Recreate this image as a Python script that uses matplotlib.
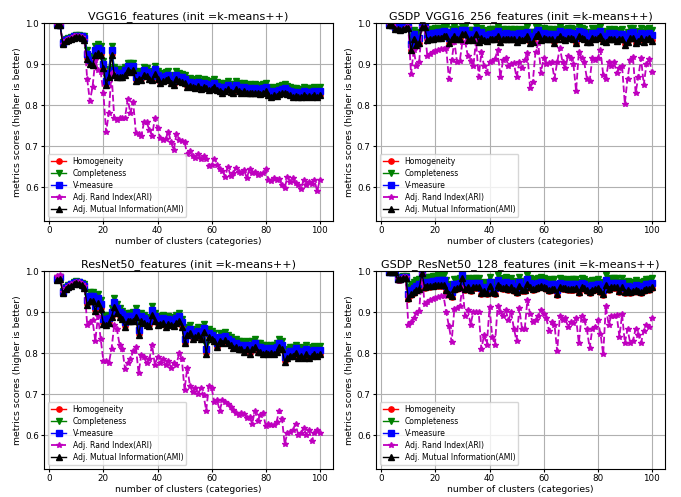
import numpy as np
import matplotlib
matplotlib.use("Agg")
from matplotlib import pyplot as plt

# number of clusters
k = np.arange(3, 101)

# ---- VGG16_features
vgg_h = np.array("""
.997 .996 .950 .958 .960 .963 .966 .968 .968 .966
.962 .915 .902 .900 .925 .930 .925 .892 .852 .872
.925 .877 .872 .872 .871 .877 .887 .884 .887 .862
.867 .863 .877 .873 .866 .863 .879 .866 .856 .861
.863 .866 .856 .851 .866 .861 .859 .856 .846 .849
.846 .843 .849 .841 .846 .843 .839 .841 .846 .839
.836 .833 .836 .841 .834 .833 .841 .836 .833 .836
.831 .833 .831 .833 .831 .829 .833 .836 .826 .823
.826 .824 .829 .831 .833 .829 .826 .823 .824 .821
.821 .826 .823 .824 .823 .826 .821 .826""".split(), dtype=float)
vgg_c = np.array("""
.999 .998 .954 .962 .964 .967 .970 .972 .972 .970
.968 .935 .918 .920 .945 .950 .945 .908 .868 .888
.945 .893 .888 .888 .889 .893 .903 .902 .903 .878
.883 .881 .893 .891 .884 .881 .897 .884 .874 .879
.881 .884 .874 .869 .884 .879 .877 .874 .864 .867
.864 .861 .867 .859 .864 .861 .857 .859 .864 .857
.854 .851 .854 .859 .852 .851 .859 .854 .851 .854
.849 .851 .849 .851 .849 .847 .851 .854 .844 .841
.844 .842 .847 .849 .851 .847 .844 .841 .842 .839
.839 .844 .841 .842 .841 .844 .839 .844""".split(), dtype=float)
vgg_v = np.array("""
.998 .997 .952 .960 .962 .965 .968 .970 .970 .968
.965 .925 .910 .910 .935 .940 .935 .900 .860 .880
.935 .885 .880 .880 .880 .885 .895 .893 .895 .870
.875 .872 .885 .882 .875 .872 .888 .875 .865 .870
.872 .875 .865 .860 .875 .870 .868 .865 .855 .858
.855 .852 .858 .850 .855 .852 .848 .850 .855 .848
.845 .842 .845 .850 .843 .842 .850 .845 .842 .845
.840 .842 .840 .842 .840 .838 .842 .845 .835 .832
.835 .833 .838 .840 .842 .838 .835 .832 .833 .830
.830 .835 .832 .833 .832 .835 .830 .835""".split(), dtype=float)
vgg_ari = np.array("""
.995 .995 .950 .960 .962 .965 .968 .970 .968 .966
.960 .865 .810 .845 .910 .885 .882 .830 .735 .780
.880 .770 .765 .768 .768 .770 .815 .780 .808 .733
.730 .725 .758 .758 .740 .725 .768 .745 .720 .715
.718 .735 .710 .690 .730 .715 .713 .710 .680 .688
.675 .672 .680 .668 .675 .670 .652 .655 .670 .655
.645 .640 .625 .650 .628 .635 .648 .638 .635 .642
.622 .645 .635 .638 .630 .632 .635 .645 .618 .615
.622 .618 .620 .605 .598 .625 .612 .622 .610 .605
.595 .618 .605 .612 .608 .618 .590 .618""".split(), dtype=float)
vgg_ami = np.array("""
.996 .995 .949 .957 .959 .962 .965 .967 .967 .965
.960 .913 .900 .898 .922 .928 .923 .890 .850 .870
.922 .875 .870 .870 .869 .875 .885 .882 .885 .860
.865 .861 .875 .871 .864 .861 .877 .864 .854 .859
.861 .864 .854 .849 .864 .859 .857 .854 .844 .847
.844 .841 .847 .839 .844 .841 .837 .839 .844 .837
.834 .831 .834 .839 .832 .831 .839 .834 .831 .834
.829 .831 .829 .831 .829 .827 .831 .834 .824 .821
.824 .822 .827 .829 .831 .827 .824 .821 .822 .819
.819 .824 .821 .822 .821 .824 .819 .824""".split(), dtype=float)

# ---- GSDP_VGG16_256_features
gvgg_h = np.array("""
.997 .996 .987 .987 .985 .987 .989 .989 .936 .965
.950 .953 .992 .992 .961 .964 .965 .966 .967 .967
.972 .970 .953 .964 .972 .964 .965 .976 .975 .961
.963 .961 .976 .956 .967 .961 .958 .964 .964 .965
.972 .956 .964 .965 .963 .964 .964 .956 .965 .962
.965 .970 .954 .956 .970 .976 .961 .966 .964 .964
.964 .955 .964 .972 .965 .962 .967 .966 .964 .953
.972 .967 .965 .956 .956 .966 .965 .966 .972 .958
.956 .965 .963 .965 .958 .963 .964 .950 .956 .966
.967 .953 .958 .966 .956 .964 .966 .960""".split(), dtype=float)
gvgg_c = np.array("""
.999 .998 .993 .993 .991 .993 .995 .995 .965 .985
.975 .978 .998 .998 .983 .986 .987 .988 .989 .989
.991 .990 .978 .986 .991 .986 .987 .993 .992 .983
.985 .983 .993 .980 .988 .983 .981 .986 .986 .987
.991 .980 .986 .987 .985 .986 .986 .980 .987 .984
.987 .990 .978 .980 .990 .993 .983 .988 .986 .986
.986 .979 .986 .991 .987 .984 .988 .988 .986 .977
.991 .988 .987 .980 .980 .988 .987 .988 .991 .981
.980 .987 .985 .987 .982 .985 .986 .975 .980 .988
.988 .977 .982 .988 .980 .986 .988 .984""".split(), dtype=float)
gvgg_v = np.array("""
.998 .997 .990 .990 .988 .990 .992 .992 .950 .975
.962 .965 .995 .995 .972 .975 .976 .977 .978 .978
.982 .980 .965 .975 .982 .975 .976 .985 .984 .972
.974 .972 .985 .968 .978 .972 .970 .975 .975 .976
.982 .968 .975 .976 .974 .975 .975 .968 .976 .973
.976 .980 .966 .968 .980 .985 .972 .977 .975 .975
.975 .967 .975 .982 .976 .973 .978 .977 .975 .965
.982 .978 .976 .968 .968 .977 .976 .977 .982 .970
.968 .976 .974 .976 .970 .974 .975 .962 .968 .977
.978 .965 .970 .977 .968 .975 .977 .972""".split(), dtype=float)
gvgg_ari = np.array("""
.998 .997 .988 .985 .985 .985 .990 .990 .876 .935
.895 .905 .990 .990 .920 .926 .930 .933 .935 .937
.938 .940 .863 .910 .955 .906 .908 .955 .955 .920
.908 .895 .958 .868 .930 .895 .880 .905 .907 .913
.935 .868 .910 .915 .897 .900 .902 .868 .905 .890
.910 .927 .841 .858 .930 .951 .880 .915 .900 .902
.905 .865 .905 .940 .905 .890 .920 .915 .900 .835
.930 .915 .905 .865 .860 .915 .910 .915 .935 .875
.865 .905 .895 .905 .880 .890 .895 .804 .865 .910
.918 .830 .870 .915 .850 .900 .912 .882""".split(), dtype=float)
gvgg_ami = np.array("""
.996 .995 .986 .986 .984 .986 .988 .988 .934 .963
.948 .951 .991 .991 .959 .962 .963 .964 .965 .965
.970 .968 .951 .962 .970 .962 .963 .974 .973 .959
.961 .959 .974 .954 .965 .959 .956 .962 .962 .963
.970 .954 .962 .963 .961 .962 .962 .954 .963 .960
.963 .968 .952 .954 .968 .974 .959 .964 .962 .962
.962 .953 .962 .970 .963 .960 .965 .964 .962 .951
.970 .965 .963 .954 .954 .964 .963 .964 .970 .956
.954 .963 .961 .963 .956 .961 .962 .948 .954 .964
.965 .951 .956 .964 .954 .962 .964 .958""".split(), dtype=float)

# ---- ResNet50_features
res_h = np.array("""
.980 .983 .948 .958 .963 .966 .970 .973 .971 .968
.960 .920 .930 .930 .905 .925 .910 .874 .871 .876
.890 .915 .900 .890 .886 .866 .881 .881 .880 .890
.847 .881 .876 .871 .869 .895 .881 .871 .874 .876
.866 .874 .871 .869 .876 .881 .866 .826 .846 .851
.836 .841 .846 .836 .853 .801 .841 .836 .831 .816
.831 .826 .833 .826 .821 .814 .816 .811 .811 .806
.811 .801 .811 .816 .806 .806 .801 .803 .799 .803
.801 .806 .816 .811 .781 .791 .796 .796 .803 .791
.796 .791 .801 .791 .796 .799 .796 .799""".split(), dtype=float)
res_c = np.array("""
.984 .987 .952 .962 .967 .970 .974 .977 .975 .972
.968 .940 .949 .950 .925 .945 .930 .893 .890 .894
.910 .935 .920 .910 .904 .885 .899 .899 .900 .910
.866 .899 .894 .889 .887 .915 .899 .889 .892 .894
.884 .892 .889 .887 .894 .899 .884 .844 .864 .869
.854 .859 .864 .854 .871 .819 .859 .854 .849 .834
.849 .844 .851 .844 .839 .832 .834 .829 .829 .824
.829 .819 .829 .834 .824 .824 .819 .821 .817 .821
.819 .824 .834 .829 .799 .809 .814 .814 .821 .809
.814 .809 .819 .809 .814 .817 .814 .817""".split(), dtype=float)
res_v = np.array("""
.982 .985 .950 .960 .965 .968 .972 .975 .973 .970
.965 .930 .940 .940 .915 .935 .920 .883 .880 .885
.900 .925 .910 .900 .895 .875 .890 .890 .890 .900
.856 .890 .885 .880 .878 .905 .890 .880 .883 .885
.875 .883 .880 .878 .885 .890 .875 .835 .855 .860
.845 .850 .855 .845 .862 .810 .850 .845 .840 .825
.840 .835 .842 .835 .830 .823 .825 .820 .820 .815
.820 .810 .820 .825 .815 .815 .810 .812 .808 .812
.810 .815 .825 .820 .790 .800 .805 .805 .812 .800
.805 .800 .810 .800 .805 .808 .805 .808""".split(), dtype=float)
res_ari = np.array("""
.988 .990 .950 .960 .965 .968 .972 .975 .973 .970
.965 .870 .875 .880 .830 .890 .835 .781 .780 .775
.810 .868 .858 .820 .810 .762 .775 .785 .805 .815
.752 .795 .790 .775 .785 .820 .772 .790 .775 .785
.770 .780 .765 .775 .772 .800 .785 .710 .765 .720
.705 .715 .700 .715 .698 .660 .720 .715 .680 .685
.660 .685 .682 .675 .668 .662 .655 .648 .655 .652
.642 .645 .628 .660 .635 .648 .655 .622 .628 .625
.625 .632 .660 .640 .578 .605 .608 .612 .628 .600
.605 .618 .600 .612 .585 .605 .612 .605""".split(), dtype=float)
res_ami = np.array("""
.979 .982 .947 .957 .962 .965 .969 .972 .970 .967
.958 .918 .928 .928 .903 .923 .908 .872 .869 .874
.888 .913 .898 .888 .884 .864 .879 .879 .878 .888
.845 .879 .874 .869 .867 .893 .879 .869 .872 .874
.864 .872 .869 .867 .874 .879 .864 .824 .844 .849
.834 .839 .844 .834 .851 .799 .839 .834 .829 .814
.829 .824 .831 .824 .819 .812 .814 .809 .809 .804
.809 .799 .809 .814 .804 .804 .799 .801 .797 .801
.799 .804 .814 .809 .779 .789 .794 .794 .801 .789
.794 .789 .799 .789 .794 .797 .794 .797""".split(), dtype=float)

# ---- GSDP_ResNet50_128_features
gres_h = np.array("""
.998 .998 .998 .979 .979 .983 .983 .932 .942 .947
.952 .955 .995 .959 .961 .962 .963 .964 .965 .965
.965 .952 .942 .937 .955 .957 .959 .983 .955 .959
.952 .959 .959 .959 .945 .949 .945 .962 .947 .945
.965 .959 .957 .960 .955 .959 .952 .947 .962 .952
.952 .967 .959 .955 .957 .959 .962 .959 .957 .952
.955 .955 .942 .959 .957 .957 .954 .955 .955 .957
.947 .959 .957 .952 .947 .953 .954 .957 .950 .942
.965 .955 .959 .959 .959 .949 .959 .947 .952 .947
.949 .953 .950 .947 .952 .955 .955 .959""".split(), dtype=float)
gres_c = np.array("""
1.0 1.0 1.0 .985 .985 .989 .989 .962 .970 .974
.978 .981 .999 .984 .986 .987 .988 .989 .990 .990
.990 .978 .968 .964 .980 .982 .984 .997 .980 .984
.977 .984 .984 .984 .971 .975 .971 .987 .973 .971
.990 .984 .982 .985 .980 .984 .977 .973 .987 .977
.977 .991 .984 .980 .982 .984 .987 .984 .982 .977
.980 .980 .968 .984 .982 .982 .979 .980 .980 .982
.973 .984 .982 .977 .973 .978 .979 .982 .975 .968
.990 .980 .984 .984 .984 .975 .984 .973 .977 .973
.975 .978 .975 .973 .977 .980 .980 .984""".split(), dtype=float)
gres_v = np.array("""
.999 .999 .999 .982 .982 .986 .986 .945 .955 .960
.965 .968 .997 .972 .974 .975 .976 .977 .978 .978
.978 .965 .955 .950 .968 .970 .972 .990 .968 .972
.965 .972 .972 .972 .958 .962 .958 .975 .960 .958
.978 .972 .970 .973 .968 .972 .965 .960 .975 .965
.965 .980 .972 .968 .970 .972 .975 .972 .970 .965
.968 .968 .955 .972 .970 .970 .967 .968 .968 .970
.960 .972 .970 .965 .960 .966 .967 .970 .963 .955
.978 .968 .972 .972 .972 .962 .972 .960 .965 .960
.962 .966 .963 .960 .965 .968 .968 .972""".split(), dtype=float)
gres_ari = np.array("""
1.0 1.0 1.0 .980 .980 .985 .985 .868 .875 .886
.897 .903 .994 .920 .925 .930 .933 .935 .937 .940
.940 .900 .866 .828 .908 .910 .915 .960 .890 .905
.870 .900 .900 .900 .810 .845 .820 .912 .840 .820
.915 .900 .890 .905 .880 .900 .860 .830 .910 .860
.858 .930 .895 .875 .880 .890 .905 .895 .885 .855
.875 .870 .805 .890 .880 .885 .865 .875 .873 .885
.825 .890 .880 .858 .812 .860 .865 .880 .848 .797
.915 .870 .890 .890 .893 .840 .895 .825 .858 .825
.830 .860 .845 .825 .855 .868 .865 .885""".split(), dtype=float)
gres_ami = np.array("""
.998 .998 .998 .980 .980 .984 .984 .934 .944 .949
.954 .957 .995 .961 .963 .964 .965 .966 .967 .967
.967 .954 .944 .939 .957 .959 .961 .984 .957 .961
.954 .961 .961 .961 .947 .951 .947 .964 .949 .947
.967 .961 .959 .962 .957 .961 .954 .949 .964 .954
.954 .969 .961 .957 .959 .961 .964 .961 .959 .954
.957 .957 .944 .961 .959 .959 .956 .957 .957 .959
.949 .961 .959 .954 .949 .955 .956 .959 .952 .944
.967 .957 .961 .961 .961 .951 .961 .949 .954 .949
.951 .955 .952 .949 .954 .957 .957 .961""".split(), dtype=float)

panels = [
    ("VGG16_features", vgg_h, vgg_c, vgg_v, vgg_ari, vgg_ami),
    ("GSDP_VGG16_256_features", gvgg_h, gvgg_c, gvgg_v, gvgg_ari, gvgg_ami),
    ("ResNet50_features", res_h, res_c, res_v, res_ari, res_ami),
    ("GSDP_ResNet50_128_features", gres_h, gres_c, gres_v, gres_ari, gres_ami),
]

fig, axes = plt.subplots(2, 2, figsize=(6.81, 4.97), dpi=100)
plt.subplots_adjust(left=0.065, right=0.9765, top=0.953, bottom=0.057,
                    wspace=0.15, hspace=0.256)

lw = 1.0
ms = 3.8
for ax, (name, h, c, v, ari, ami) in zip(axes.flat, panels):
    ax.plot(k, h, "ro-", lw=lw, ms=ms, label="Homogeneity")
    ax.plot(k, c, "gv-", lw=lw, ms=ms, label="Completeness")
    ax.plot(k, v, "bs-", lw=lw, ms=ms, label="V-measure")
    ax.plot(k, ari, "m*--", lw=lw * 1.3, ms=ms, label="Adj. Rand Index(ARI)")
    ax.plot(k, ami, "k^-", lw=lw, ms=ms, label="Adj. Mutual Information(AMI)")
    ax.set_ylim(0.518, 1.0)
    ax.set_title(name + " (init =k-means++)", fontsize=8, pad=3)
    ax.set_xlabel("number of clusters (categories)", fontsize=6.7, labelpad=1)
    ax.set_ylabel("metrics scores (higher is better)", fontsize=6.7, labelpad=2)
    ax.tick_params(labelsize=6.3, length=2.5, pad=1.5)
    ax.set_yticks([0.6, 0.7, 0.8, 0.9, 1.0])
    ax.grid(True, lw=0.8)
    ax.legend(loc="lower left", fontsize=5.5, handlelength=2.0, borderpad=0.4,
              labelspacing=0.4)

fig.savefig("out.png", dpi=100)
